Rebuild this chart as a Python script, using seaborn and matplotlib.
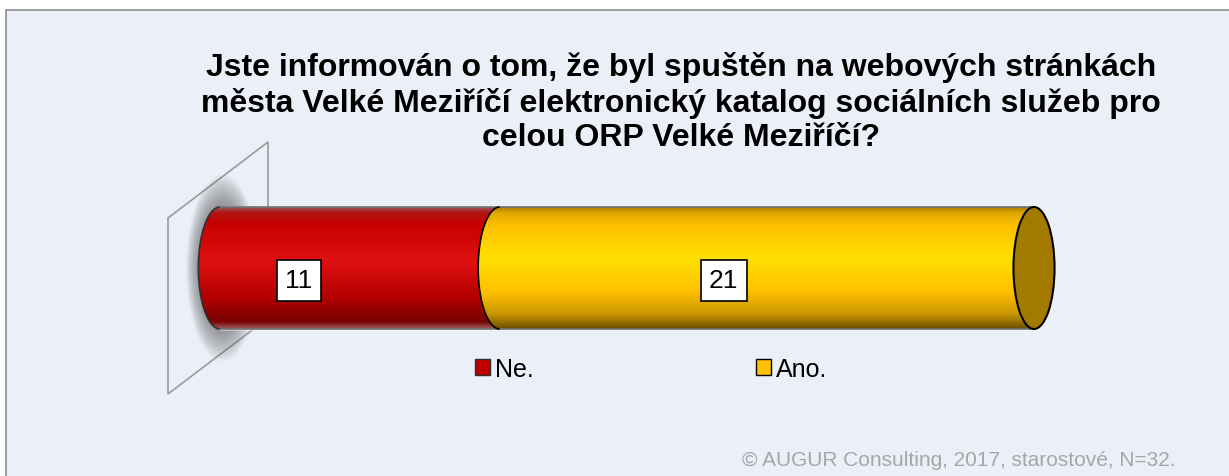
import numpy as np
import pandas as pd
import matplotlib
matplotlib.use("Agg")
import matplotlib.pyplot as plt
import seaborn as sns
from matplotlib.patches import Rectangle, Ellipse, Polygon, PathPatch, Patch
from matplotlib.path import Path
from matplotlib.colors import LinearSegmentedColormap

# data
answers = ["Ne.", "Ano."]
counts = [11, 21]
question = ("Jste informován o tom, že byl spuštěn na webových stránkách\n"
            "města Velké Meziříčí elektronický katalog sociálních služeb pro\n"
            "celou ORP Velké Meziříčí?")
source_note = "© AUGUR Consulting, 2017, starostové, N=32."

base_colors = ["#C00000", "#FFC000"]
shades = [
    [(0.0, "#9a5a5a"), (0.04, "#b01818"), (0.12, "#c40000"), (0.45, "#e01010"),
     (0.75, "#b00000"), (0.94, "#780000"), (1.0, "#a06060")],
    [(0.0, "#b08000"), (0.05, "#e0a800"), (0.15, "#ffc000"), (0.42, "#ffe000"),
     (0.70, "#ffc000"), (0.88, "#c89400"), (1.0, "#6b5000")],
]

sns.set_style("white")
plt.rcParams['font.family'] = ['Liberation Sans', 'DejaVu Sans']
plt.rcParams['text.color'] = 'black'

W, H = 1229, 477
fig = plt.figure(figsize=(W / 100, H / 100), dpi=100)
fig.patch.set_facecolor("white")

# light panel behind the chart
fig.patches.append(Rectangle((6 / W, -0.1), 1.2, 1.1 - 11 / H, transform=fig.transFigure,
                             facecolor="#EBF0F8", edgecolor="#8C8C8C", lw=1.2, zorder=-10))

ax = fig.add_axes([0, 0, 1, 1])
ax.patch.set_alpha(0)

df = pd.DataFrame({"answer": answers, "count": counts})
df["end"] = df["count"].cumsum()
df["start"] = df["end"] - df["count"]
df["q"] = "q"

bar_h = 0.8
# stacked bars: total first, then the first segment on top
for i in reversed(range(len(df))):
    sns.barplot(data=df.iloc[[i]], x="end", y="q", orient="h", color=base_colors[i],
                width=bar_h, ax=ax, zorder=1)

total = df["end"].iloc[-1]
px_per_unit = 814 / total
ax.set_xlim(-220 / px_per_unit, (W - 220) / px_per_unit)
ppy = 122 / bar_h
ax.set_ylim((H - 269) / ppy, -269 / ppy)
ax.axis("off")

yc = 0
top, bot = yc - bar_h / 2, yc + bar_h / 2
rx = 0.85

# soft shadow around the left end
for k in range(14):
    f = 1 + k * 0.035
    ax.add_patch(Ellipse((0.1, yc), 2 * rx * f * 1.15, bar_h * f * 1.05,
                         facecolor="#505050", edgecolor="none", alpha=0.05, zorder=0.5))


def body_path(x0, x1):
    t = np.linspace(np.pi / 2, 3 * np.pi / 2, 60)
    arc = np.column_stack([x0 + rx * np.cos(t), yc - (bar_h / 2) * np.sin(t)])
    verts = np.vstack([[x1, top], arc, [x1, bot], [x1, top]])
    codes = [Path.MOVETO] + [Path.LINETO] * (len(verts) - 2) + [Path.CLOSEPOLY]
    return Path(verts, codes), arc


for i, row in df.iterrows():
    x0, x1 = row["start"], row["end"]
    cmap = LinearSegmentedColormap.from_list("c%d" % i, shades[i])
    grad = cmap(np.linspace(0, 1, 256))[:, None, :]
    im = ax.imshow(grad, extent=[x0 - rx - 0.1, x1, bot, top], origin="upper",
                   aspect="auto", zorder=2 + i, interpolation="bilinear")
    path, arc = body_path(x0, x1)
    clip = PathPatch(path, transform=ax.transData, facecolor="none", edgecolor="none")
    ax.add_patch(clip)
    im.set_clip_path(clip)
    edge = "#000000" if i > 0 else "#303030"
    ax.plot(arc[:, 0], arc[:, 1], color=edge, lw=1.2, zorder=2 + i + 0.5)
    ax.plot([x0, x1], [top, top], color="#707070", lw=1.2, zorder=2 + i + 0.5)
    ax.plot([x0, x1], [bot, bot], color="#707070", lw=1.2, zorder=2 + i + 0.5)

# right end cap
ax.add_patch(Ellipse((total, yc), 2 * rx * 0.95, bar_h, facecolor="#A37A00",
                     edgecolor="black", lw=1.5, zorder=6))

# wall plane behind the cylinder
wall = [(168, 219), (268, 143), (268, 319), (168, 395)]
ax.add_patch(Polygon([(x / W, 1 - y / H) for x, y in wall], closed=True, fill=False,
                     edgecolor="#9A9A9A", lw=1.2, transform=ax.transAxes, zorder=0.3))

# value labels
label_shift = [-2.4, -1.7]
for i, row in df.iterrows():
    xm = (row["start"] + row["end"]) / 2 + label_shift[i]
    ax.text(xm, yc + 0.08, str(row["count"]), ha="center", va="center", fontsize=19,
            zorder=8, bbox=dict(boxstyle="square,pad=0.32", facecolor="white",
                                edgecolor="black", lw=1.2))

fig.text(681 / W, 1 - 52 / H, question, ha="center", va="top", fontsize=23,
         fontweight="bold", linespacing=1.2)

handles = [Patch(facecolor=base_colors[0], edgecolor="#303030"),
           Patch(facecolor=base_colors[1], edgecolor="black")]
fig.legend(handles, answers, loc="center", bbox_to_anchor=(651 / W, 1 - 370 / H), ncol=2,
           frameon=False, fontsize=18, handlelength=0.6, handleheight=0.6,
           handletextpad=0.2, columnspacing=8.9)

fig.text(1175 / W, 1 - 466 / H, source_note, ha="right", va="baseline", fontsize=15,
         color="#A6A6A6")

fig.savefig("out.png", dpi=100)
